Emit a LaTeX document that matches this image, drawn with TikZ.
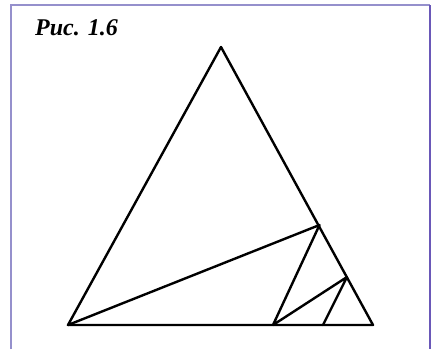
\documentclass[tikz,border=0pt]{standalone}
\usepackage{fontspec}
\setmainfont{Liberation Serif}
\definecolor{frameA}{HTML}{9590CC}
\definecolor{frameB}{HTML}{6A58B8}
\begin{document}
\begin{tikzpicture}[x=1pt,y=-1pt,
  edge/.style={line width=2.4pt,line join=round,line cap=round},
  framel/.style={line width=1.8pt}]
\useasboundingbox (0,0) rectangle (431,349);
\draw[framel,frameA] (11,349) -- (11,5) -- (430,5);
\draw[framel,frameB] (430,5) -- (430,349);
\node[anchor=base west,inner sep=0pt,font=\fontsize{24}{28}\selectfont\bfseries\itshape] (cap) at (35,35) {Рис. 1.6};
\coordinate (A) at (221,47);
\coordinate (B) at (68,325);
\coordinate (C) at (373,325);
\coordinate (D) at (319.5,225);
\coordinate (E) at (273,325);
\coordinate (F) at (347,277);
\coordinate (G) at (323,325);
\draw[edge] (A) -- (B) -- (C) -- cycle;
\draw[edge] (B) -- (D) -- (E) -- (F) -- (G);
\end{tikzpicture}
\end{document}
